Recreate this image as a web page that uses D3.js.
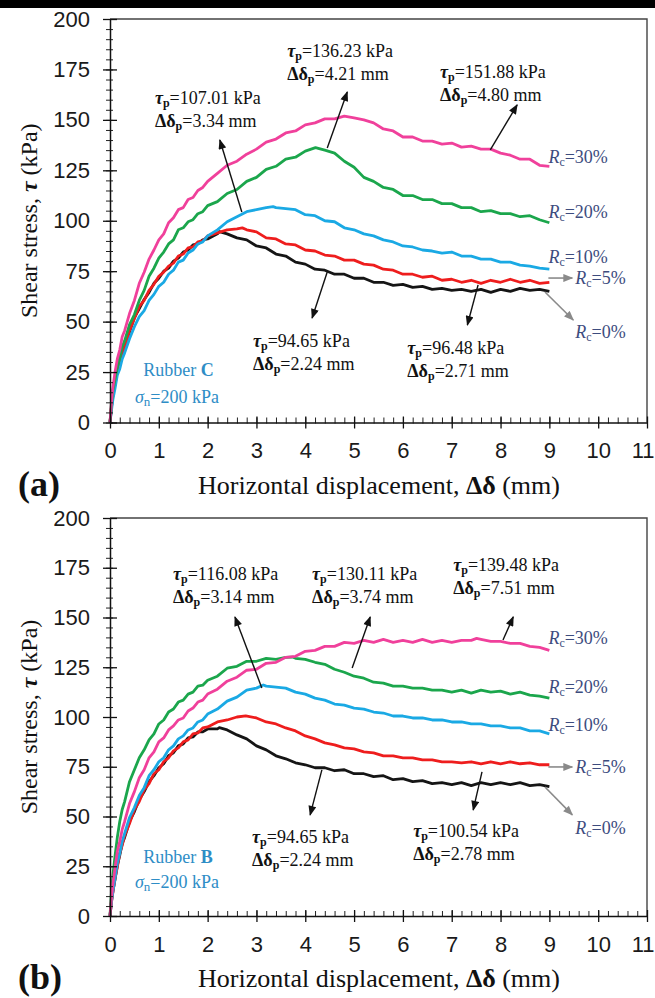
<!DOCTYPE html>
<html>
<head>
<meta charset="utf-8">
<script src="https://cdn.jsdelivr.net/npm/d3@7"></script>
<style>
  body { margin: 0; background: #fff; }
  svg { display: block; }
</style>
</head>
<body>
<svg id="fig" width="655" height="998"></svg>
<script>
// ---- data ---------------------------------------------------------------
// horizontal displacement (mm) at which each shear-stress reading is listed
const disp = [0,0.03,0.06,0.1,0.15,0.2,0.25,0.3,0.4,0.5,
  0.6,0.7,0.8,0.9,1.0,1.1,1.2,1.3,1.4,1.5,
  1.6,1.7,1.8,1.9,2.0,2.2,2.4,2.6,2.8,3.0,
  3.2,3.4,3.6,3.8,4.0,4.2,4.4,4.6,4.8,5.0,
  5.2,5.4,5.6,5.8,6.0,6.2,6.4,6.6,6.8,7.0,
  7.2,7.4,7.6,7.8,8.0,8.2,8.4,8.6,8.8,9.0];

const rcLevels = ["0%", "5%", "10%", "20%", "30%"];
const seriesColors = ["#151515", "#ee1d1d", "#1aa9e4", "#1ba64c", "#f0409b"];

// Rubber C, shear stress (kPa)
const tauC_rc0 = [0,7.5,14,19,25,30,34,38,45,52,
  56.5,61,64.5,69,71.5,75,76.5,80,81.5,84.5,
  85.5,88,88.5,90.5,91,93.5,93.5,91.5,90.5,87.5,
  86.5,83.5,82.5,79.5,78.5,76,75.5,73.5,73.5,71.5,
  71.5,69.5,69.5,68,68.5,67,67.5,66,66.5,65.5,
  66,65,66,64.5,66,65,66.5,65.5,66,65];
const tauC_rc5 = [0,8,13.5,18.5,25.5,29.5,34.5,37.5,45.5,51.5,
  57.5,60.5,65.5,68.5,72.5,74.5,77.5,79,82.5,83.5,
  86.5,87,89.5,90,92.5,94,95.5,96,95.5,94.5,
  91.5,91,88.5,88,85.5,85,83,82.5,80.5,80.5,
  78.5,78,76,75.5,73.5,73.5,72,72.5,70.5,71,
  69.5,70.5,69,70.5,69.5,71,69.5,70.5,69,69.5];
const tauC_rc10 = [0,6,11.5,16.5,23.5,26.5,31.5,34.5,41.5,47.5,
  52.5,55.5,60.5,63.5,67.5,69.5,73.5,75.5,79.5,80.5,
  84,85.5,88.5,89.5,92.5,95.5,99.5,102,104.5,105.5,
  106.5,106.5,106,105.5,103,102.5,100,99.5,96.5,95.5,
  93.5,92.5,90.5,89.5,87.5,87,85.5,85,84,84.5,
  82.5,82.5,81,81,79.5,79.5,78,77.5,76.5,76];
const tauC_rc20 = [0,9,16,21,27.5,32,37.5,40.5,48.5,53.5,
  60.5,65.5,72.5,76.5,81.5,84.5,88.5,90.5,95.5,96.5,
  99.5,100.5,103.5,104.5,107.5,109.5,113.5,115.5,119.5,121.5,
  125.5,127,130.5,131.5,134.5,135.5,135,133.5,129.5,126.5,
  121.5,119.5,116.5,115.5,112.5,112.5,110.5,110.5,108.5,108.5,
  106.5,106.5,104.5,105,103.5,103.5,102,102.5,100.5,99];
const tauC_rc30 = [0,10,17.5,24.5,31.5,36,42.5,45.5,54,60.5,
  69,74.5,81,85.5,90.5,93.5,99,101.5,105.5,106.5,
  110.5,111.5,115,116.5,119.5,123.5,127.5,129.5,133,135.5,
  139,140.5,143.5,144.5,147.5,148.5,150.5,150.5,151.5,151,
  150,148.5,145.5,144.5,141.5,141.5,139.5,139.5,138,138.5,
  136.5,137,135.5,135.5,133.5,132.5,130.5,130.5,127.5,127];

// Rubber B, shear stress (kPa)
const tauB_rc0 = [0,7.5,12.5,18,25.5,30.5,36.5,39.5,47.5,52.5,
  58.5,62.5,67.5,70.5,74.5,76.5,80.5,82,85.5,86.5,
  89.5,90,92.5,92.5,94,94,93.5,91,89,85.5,
  83.5,80.5,79,77,76,74.5,74.5,73,73.5,71.5,
  71.5,70,70.5,68.5,69,67.5,68,66.5,67,66,
  67,65.5,67,66,67,66,67,65.5,66,65];
const tauB_rc5 = [0,7,12,18.5,24.5,31.5,35.5,40.5,46.5,53.5,
  57.5,63.5,66.5,71.5,73.5,77.5,79.5,83,84.5,87.5,
  88.5,91.5,92,94.5,95,97.5,98.5,100,100,99.5,
  97.5,96.5,94.5,93,90.5,89,87,86,84.5,84,
  82.5,82,80.5,80.5,79.5,79.5,78.5,78.5,77.5,77.5,
  77,77.5,76.5,77.5,76.5,77.5,76.5,77,76,76];
const tauB_rc10 = [0,7,12.5,18.5,26.5,31.5,37.5,41.5,49.5,54.5,
  60.5,64.5,70.5,73.5,77.5,79.5,83.5,85.5,89,90.5,
  93.5,94.5,97.5,98.5,101.5,104,108,110,113.5,114.5,
  115.5,115,114.5,112.5,111.5,109.5,108.5,106.5,106,104.5,
  104,102.5,102,100.5,100.5,99.5,99.5,98.5,98.5,97.5,
  97.5,96.5,96.5,95.5,95.5,94.5,94.5,93,93,91.5];
const tauB_rc20 = [0,12,20.5,29.5,39.5,47.5,53.5,57.5,67.5,73.5,
  79.5,83.5,88.5,91.5,96.5,98.5,102.5,104,107.5,108.5,
  111.5,112.5,115.5,116,118.5,120.5,124.5,125.5,128,128,
  129.5,129,130,129.5,129,127.5,126.5,124,122.5,120.5,
  119.5,117.5,117,115.5,115.5,114.5,114.5,113.5,113.5,112.5,
  113.5,112,113.5,112.5,113,111.5,112.5,111,110.5,109.5];
const tauB_rc30 = [0,9,16.5,23.5,32.5,37.5,43.5,47.5,56.5,62.5,
  69.5,73.5,79.5,82.5,87.5,89.5,93.5,95.5,98.5,99.5,
  103,104.5,107.5,108.5,111.5,114,118,120,123.5,124,
  127,127.5,130,130.5,133,133.5,135.5,135.5,137.5,137,
  138.5,137.5,139,137.5,138.5,137.5,139,137.5,138.5,137.5,
  138.5,138.5,139,138,138,137,137,135.5,135,133.5];

// peak shear stress (kPa) and displacement at peak (mm), order of rcLevels
const peakTauC  = [94.65, 96.48, 107.01, 136.23, 151.88];
const peakDispC = [2.24, 2.71, 3.34, 4.21, 4.80];
const peakTauB  = [94.65, 100.54, 116.08, 130.11, 139.48];
const peakDispB = [2.24, 2.78, 3.14, 3.74, 7.51];

const xTickValues = [0,1,2,3,4,5,6,7,8,9,10,11];
const yTickValues = [0,25,50,75,100,125,150,175,200];

// ---- layout -------------------------------------------------------------
const serif = "'Liberation Serif', 'Times New Roman', serif";
const narrow = "'Liberation Sans Narrow', 'Arial Narrow', 'Liberation Sans', sans-serif";
const rcColor = "#3d4c7e";
const rubberColor = "#2e8dc6";

const svg = d3.select("#fig");
svg.append("rect").attr("x", 0).attr("y", 0).attr("width", 655).attr("height", 8).attr("fill", "#000");

const defs = svg.append("defs");
function arrowMarker(id, color) {
  defs.append("marker")
    .attr("id", id).attr("viewBox", "0 0 10 8")
    .attr("refX", 9).attr("refY", 4)
    .attr("markerWidth", 11).attr("markerHeight", 8)
    .attr("markerUnits", "userSpaceOnUse").attr("orient", "auto")
    .append("path").attr("d", "M0,0L10,4L0,8Z").attr("fill", color);
}
arrowMarker("headBlack", "#111");
arrowMarker("headGrey", "#8a8a8a");

const panels = [
  {
    y0: 422.5, y200: 19, tag: "(a)", rubber: "C",
    series: [tauC_rc0, tauC_rc5, tauC_rc10, tauC_rc20, tauC_rc30],
    peakTau: peakTauC, peakDisp: peakDispC,
    notes: [
      { s: 2, at: [0.92, 157.9], tail: [2.70, 104.3], tip: [2.25, 140.0] },
      { s: 3, at: [3.63, 181.2], tail: [4.45, 136.1], tip: [4.86, 163.8] },
      { s: 4, at: [6.76, 171.0], tail: [7.79, 135.1], tip: [8.34, 157.4] },
      { s: 0, at: [2.93, 37.4],  tail: [4.45, 74.6],  tip: [4.14, 51.8] },
      { s: 1, at: [6.09, 34.0],  tail: [7.54, 68.2],  tip: [7.32, 48.3] }
    ],
    rcAt: [[9.53, 41.9], [9.53, 68.6], [8.98, 79.1], [8.98, 101.4], [8.98, 128.6]],
    greyArrows: [[[8.98, 71.6], [9.47, 71.6]], [[8.91, 64.7], [9.49, 50.8]]],
    rubberAt: [[0.68, 23.0], [0.51, 9.7]]
  },
  {
    y0: 916, y200: 518, tag: "(b)", rubber: "B",
    series: [tauB_rc0, tauB_rc5, tauB_rc10, tauB_rc20, tauB_rc30],
    peakTau: peakTauB, peakDisp: peakDispB,
    notes: [
      { s: 2, at: [1.29, 168.8], tail: [3.11, 114.6], tip: [2.56, 150.3] },
      { s: 3, at: [4.14, 168.8], tail: [4.96, 124.6], tip: [5.33, 150.3] },
      { s: 4, at: [7.03, 173.4], tail: [8.05, 138.7], tip: [8.26, 150.3] },
      { s: 0, at: [2.91, 36.7],  tail: [4.34, 73.4],  tip: [4.10, 50.8] },
      { s: 1, at: [6.21, 39.7],  tail: [7.62, 72.4],  tip: [7.44, 53.3] }
    ],
    rcAt: [[9.53, 41.2], [9.53, 71.9], [8.98, 93.0], [8.98, 112.1], [8.98, 136.7]],
    greyArrows: [[[8.98, 74.9], [9.47, 74.9]], [[8.91, 64.8], [9.47, 50.8]]],
    rubberAt: [[0.68, 26.6], [0.51, 14.1]]
  }
];

function styleAxis(s) {
  s.attr("font-family", narrow).attr("font-size", 22);
  s.select(".domain").attr("stroke", "#111").attr("stroke-width", 1.5);
  s.selectAll(".tick line").attr("stroke", "#111").attr("stroke-width", 1.3);
  s.selectAll(".tick text").attr("fill", "#1a1a1a");
}

function drawPanel(p) {
  const x = d3.scaleLinear().domain([0, 11]).range([110, 647]);
  const y = d3.scaleLinear().domain([0, 200]).range([p.y0, p.y200]);
  const g = svg.append("g");

  // frame (top and right edges)
  g.append("path")
    .attr("d", `M${x(0)},${y(200)}H${x(11)}V${y(0)}`)
    .attr("fill", "none").attr("stroke", "#444").attr("stroke-width", 1.4);

  // curves
  const line = d3.line().x(d => x(d[0])).y(d => y(d[1]));
  p.series.forEach((vals, i) => {
    const pk = p.peakDisp[i];
    const pts = disp.map((d, k) => [d, vals[k]]).filter(d => Math.abs(d[0] - pk) > 0.03);
    pts.push([pk, p.peakTau[i]]);
    pts.sort((a, b) => a[0] - b[0]);
    g.append("path").datum(pts)
      .attr("d", line)
      .attr("fill", "none")
      .attr("stroke", seriesColors[i])
      .attr("stroke-width", 2.8)
      .attr("stroke-linejoin", "round");
  });

  // y axis: minor then major ticks, both crossing the axis line
  g.append("g").attr("transform", `translate(${x(0)},0)`)
    .call(d3.axisLeft(y).tickValues(d3.range(0, 201, 5)).tickSize(4).tickSizeOuter(0).tickFormat(""))
    .call(s => { s.select(".domain").remove(); s.selectAll(".tick line").attr("x1", 3).attr("stroke", "#222"); });
  g.append("g").attr("transform", `translate(${x(0)},0)`)
    .call(d3.axisLeft(y).tickValues(yTickValues).tickSize(7).tickSizeOuter(0).tickPadding(13))
    .call(styleAxis)
    .call(s => s.selectAll(".tick line").attr("x1", 7));

  // x axis
  g.append("g").attr("transform", `translate(0,${y(0)})`)
    .call(d3.axisBottom(x).tickValues(d3.range(0, 11.001, 0.2)).tickSize(1).tickSizeOuter(0).tickFormat(""))
    .call(s => { s.select(".domain").remove(); s.selectAll(".tick line").attr("y1", -5).attr("stroke", "#222"); });
  g.append("g").attr("transform", `translate(0,${y(0)})`)
    .call(d3.axisBottom(x).tickValues(xTickValues).tickSize(6).tickSizeOuter(0).tickPadding(14))
    .call(styleAxis)
    .call(s => {
      s.selectAll(".tick line").attr("y1", -6);
      // keep the last label inside the page edge
      s.selectAll(".tick text").filter(d => d === 11).attr("text-anchor", "end").attr("x", 7);
    });

  // axis titles
  const xt = g.append("text")
    .attr("x", 379).attr("y", y(0) + 71)
    .attr("text-anchor", "middle").attr("font-family", serif).attr("font-size", 26).attr("fill", "#111");
  xt.append("tspan").text("Horizontal displacement, ");
  xt.append("tspan").attr("font-weight", "bold").text("Δδ");
  xt.append("tspan").text(" (mm)");

  const yMid = (y(0) + y(200)) / 2;
  const yt = g.append("text")
    .attr("transform", `translate(37,${yMid}) rotate(-90)`)
    .attr("text-anchor", "middle").attr("font-family", serif).attr("font-size", 24).attr("fill", "#111");
  yt.append("tspan").text("Shear stress, ");
  yt.append("tspan").attr("font-weight", "bold").attr("font-style", "italic").text("τ");
  yt.append("tspan").text(" (kPa)");

  g.append("text")
    .attr("x", 18).attr("y", y(0) + 73)
    .attr("font-family", serif).attr("font-weight", "bold").attr("font-size", 36).attr("fill", "#111")
    .text(p.tag);

  // peak annotations
  p.notes.forEach(n => {
    const tx = x(n.at[0]), ty = y(n.at[1]);
    const t1 = g.append("text").attr("x", tx).attr("y", ty)
      .attr("font-family", serif).attr("font-size", 18).attr("fill", "#111");
    t1.append("tspan").attr("font-weight", "bold").attr("font-style", "italic").text("τ");
    t1.append("tspan").attr("font-weight", "bold").attr("font-size", 12).attr("dy", 3).text("p");
    t1.append("tspan").attr("dy", -3).text(`=${p.peakTau[n.s].toFixed(2)} kPa`);
    const t2 = g.append("text").attr("x", tx).attr("y", ty + 23)
      .attr("font-family", serif).attr("font-size", 18).attr("fill", "#111");
    t2.append("tspan").attr("font-weight", "bold").text("Δδ");
    t2.append("tspan").attr("font-weight", "bold").attr("font-size", 12).attr("dy", 3).text("p");
    t2.append("tspan").attr("dy", -3).text(`=${p.peakDisp[n.s].toFixed(2)} mm`);

    g.append("line")
      .attr("x1", x(n.tail[0])).attr("y1", y(n.tail[1]))
      .attr("x2", x(n.tip[0])).attr("y2", y(n.tip[1]))
      .attr("stroke", "#111").attr("stroke-width", 1.4)
      .attr("marker-end", "url(#headBlack)");
  });

  // grey pointers for the two lowest curves
  p.greyArrows.forEach(a => {
    g.append("line")
      .attr("x1", x(a[0][0])).attr("y1", y(a[0][1]))
      .attr("x2", x(a[1][0])).attr("y2", y(a[1][1]))
      .attr("stroke", "#8a8a8a").attr("stroke-width", 1.6)
      .attr("marker-end", "url(#headGrey)");
  });

  // Rc labels
  rcLevels.forEach((lv, i) => {
    const t = g.append("text")
      .attr("x", x(p.rcAt[i][0])).attr("y", y(p.rcAt[i][1]))
      .attr("font-family", serif).attr("font-size", 18).attr("fill", rcColor);
    t.append("tspan").attr("font-style", "italic").text("R");
    t.append("tspan").attr("font-size", 12).attr("dy", 3).text("c");
    t.append("tspan").attr("dy", -3).text("=" + lv);
  });

  // rubber type and normal stress
  const r1 = g.append("text")
    .attr("x", x(p.rubberAt[0][0])).attr("y", y(p.rubberAt[0][1]))
    .attr("font-family", serif).attr("font-size", 18).attr("fill", rubberColor);
  r1.append("tspan").text("Rubber ");
  r1.append("tspan").attr("font-weight", "bold").text(p.rubber);
  const r2 = g.append("text")
    .attr("x", x(p.rubberAt[1][0])).attr("y", y(p.rubberAt[1][1]))
    .attr("font-family", serif).attr("font-size", 18).attr("fill", rubberColor);
  r2.append("tspan").attr("font-style", "italic").text("σ");
  r2.append("tspan").attr("font-size", 13).attr("dy", 3).text("n");
  r2.append("tspan").attr("dy", -3).text("=200 kPa");
}

panels.forEach(drawPanel);
</script>
</body>
</html>
